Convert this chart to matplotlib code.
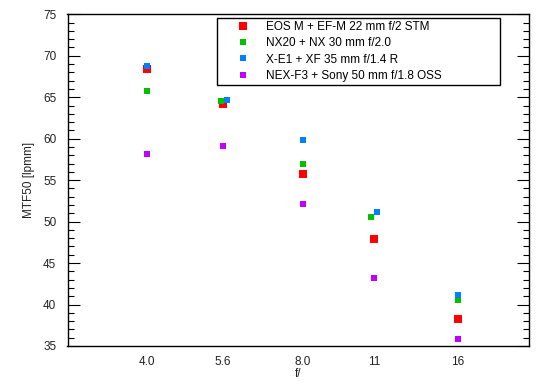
import matplotlib
matplotlib.use("Agg")
import matplotlib.pyplot as plt
from matplotlib.ticker import FixedLocator, FixedFormatter, MultipleLocator, NullLocator

plt.rcParams['font.family'] = ['Liberation Sans', 'DejaVu Sans']

# Data
tick_fnums = [4.0, 5.6, 8.0, 11, 16]
tick_labels = ["4.0", "5.6", "8.0", "11", "16"]

series_names = [
    "EOS M + EF-M 22 mm f/2 STM",
    "NX20 + NX 30 mm f/2.0",
    "X-E1 + XF 35 mm f/1.4 R",
    "NEX-F3 + Sony 50 mm f/1.8 OSS",
]
eos_f = [4.0, 5.6, 8.0, 11.0, 16.0]
eos_mtf = [68.4, 64.2, 55.8, 47.9, 38.2]
nx_f = [4.0, 5.55, 8.0, 10.85, 16.0]
nx_mtf = [65.7, 64.6, 57.0, 50.6, 40.6]
xe_f = [4.0, 5.7, 8.0, 11.15, 16.0]
xe_mtf = [68.8, 64.7, 59.8, 51.1, 41.1]
nex_f = [4.0, 5.6, 8.0, 11.0, 16.0]
nex_mtf = [58.2, 59.1, 52.1, 43.2, 35.8]

colors = ["#FF0000", "#00C000", "#0080FF", "#C000FF"]
sizes = [5.2, 3.7, 3.7, 3.7]

fig = plt.figure(figsize=(5.5, 3.89), dpi=100)
ax = fig.add_axes([67.5 / 550, 1 - 346 / 389, (529.3 - 67.5) / 550, (346 - 14.3) / 389])

xs = [eos_f, nx_f, xe_f, nex_f]
ys = [eos_mtf, nx_mtf, xe_mtf, nex_mtf]
for x, y, c, s, name in zip(xs, ys, colors, sizes, series_names):
    ax.plot(x, y, linestyle='none', marker='s', markersize=s, color=c,
            markeredgewidth=0, label=name)

ax.set_xscale('log')
ax.set_xlim(2.8, 22)
ax.xaxis.set_major_locator(FixedLocator(tick_fnums))
ax.xaxis.set_major_formatter(FixedFormatter(tick_labels))
ax.xaxis.set_minor_locator(NullLocator())
ax.tick_params(axis='x', which='both', bottom=False, top=False, length=0,
               pad=7, labelsize=8.5, labelcolor='#222222')

ax.set_ylim(35, 75)
ax.yaxis.set_major_locator(MultipleLocator(5))
ax.yaxis.set_minor_locator(MultipleLocator(1))
ax.tick_params(axis='y', which='major', direction='in', length=8.6, width=0.8,
               left=True, right=True, pad=8, labelsize=8.5, labelcolor='#222222')
ax.tick_params(axis='y', which='minor', direction='in', length=4.3, width=0.8,
               left=True, right=True)

for sp in ax.spines.values():
    sp.set_linewidth(1)
    sp.set_color('black')

ax.set_xlabel("f/", fontsize=8.5, labelpad=0.5, color='#222222')
ax.set_ylabel("MTF50 [lpmm]", fontsize=8.5, labelpad=6, color='#222222')

leg_left = (216.7 - 67.5) / (529.3 - 67.5)
leg_right = (500 - 67.5) / (529.3 - 67.5)
leg_top = (346 - 17.7) / (346 - 14.3)
leg = ax.legend(loc='upper left', bbox_to_anchor=(leg_left, leg_top, leg_right - leg_left, 0.0),
                mode='expand', borderaxespad=0, fontsize=8.5, numpoints=1,
                frameon=True, fancybox=False, framealpha=1, edgecolor='black',
                borderpad=0.25, handlelength=3.9, handletextpad=0.0,
                labelspacing=0.38, markerscale=1.0)
leg.get_frame().set_linewidth(1)

fig.savefig("out.png", dpi=100)
